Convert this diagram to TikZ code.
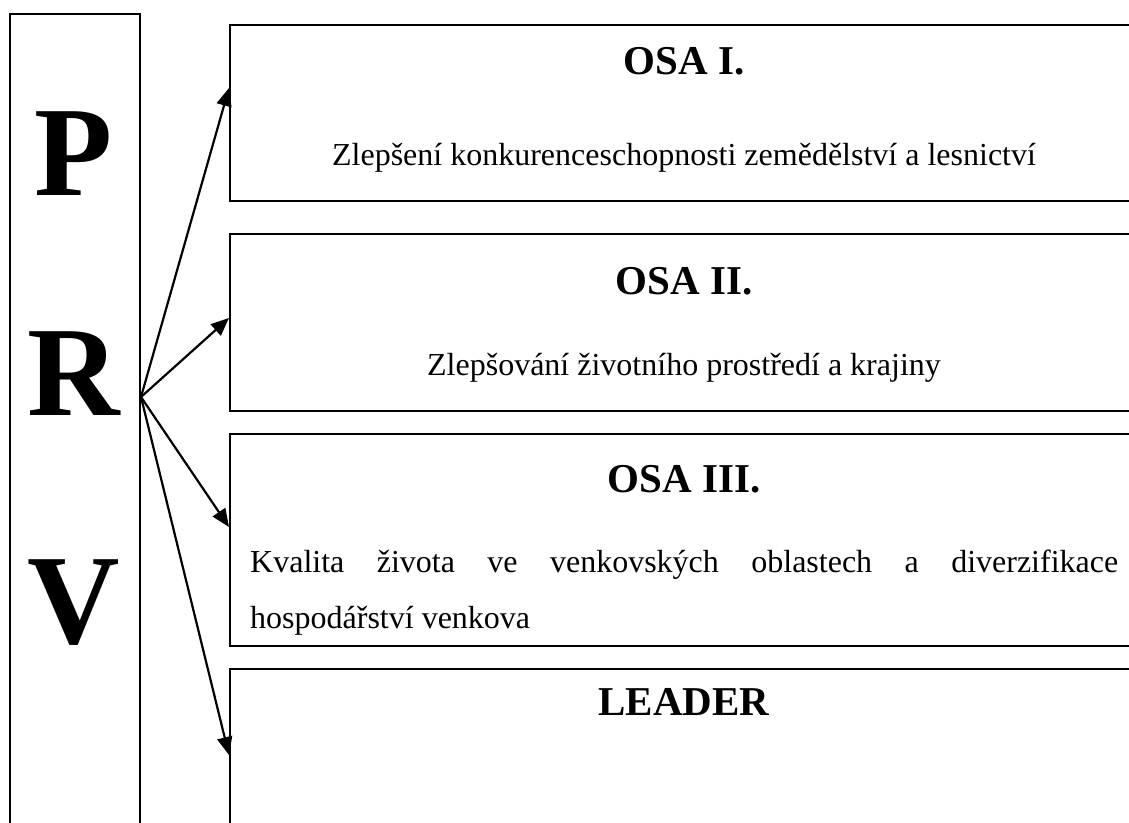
\documentclass[tikz,border=0pt]{standalone}
\usepackage{fontspec}
\setmainfont{Liberation Serif}
\usetikzlibrary{arrows.meta}

\tikzset{
  ramec/.style={draw,line width=2pt,rectangle,inner sep=0pt,anchor=north west},
  osa/.style={ramec,minimum width=910pt},
  nadpis/.style={anchor=base,font=\fontsize{41}{41}\selectfont\bfseries},
  popis/.style={anchor=base,font=\fontsize{32}{32}\selectfont},
  pismeno/.style={anchor=base,font=\fontsize{128}{128}\selectfont\bfseries},
  sipka/.style={line width=2.2pt,-{Triangle[length=18pt,width=15pt]}}
}

\begin{document}
\begin{tikzpicture}[x=1pt,y=-1pt]
        \useasboundingbox (0,0) rectangle (1129,822);
        \clip (0,0) rectangle (1129,822);

        % levy sloupec PRV
        \node[ramec,minimum width=130pt,minimum height=840pt] (prv) at (9,13) {};
        \node[pismeno] (p) at (74,195) {P};
        \node[pismeno] (r) at (74,415) {R};
        \node[pismeno] (v) at (74,643) {V};

        % osy
        \node[osa,minimum height=176pt] (osa1) at (229,24) {};
        \node[nadpis] (n1) at (684,74) {OSA I.};
        \node[popis] (t1) at (684,165) {Zlepšení konkurenceschopnosti zemědělství a lesnictví};

        \node[osa,minimum height=177pt] (osa2) at (229,233) {};
        \node[nadpis] (n2) at (684,294) {OSA II.};
        \node[popis] (t2) at (684,375) {Zlepšování životního prostředí a krajiny};

        \node[osa,minimum height=212pt] (osa3) at (229,433) {};
        \node[nadpis] (n3) at (684,492) {OSA III.};
        \node[anchor=north west,inner sep=0pt,text width=868pt,align=justify,
              font=\fontsize{32}{56}\selectfont] (t3) at (250,550)
              {Kvalita života ve venkovských oblastech a diverzifikace hospodářství venkova};

        \node[osa,minimum height=200pt] (osa4) at (229,668) {};
        \node[nadpis] (n4) at (684,715) {LEADER};

        % sipky
        \coordinate (zdroj) at (prv.east |- 0,397);
        \coordinate (c1) at (osa1.west |- 0,88);
        \coordinate (c2) at (osa2.west |- 0,318);
        \coordinate (c3) at (osa3.west |- 0,527);
        \coordinate (c4) at (osa4.west |- 0,755);
        \foreach \c in {c1,c2,c3,c4}
            \draw[sipka] (zdroj) -- (\c);
\end{tikzpicture}
\end{document}
